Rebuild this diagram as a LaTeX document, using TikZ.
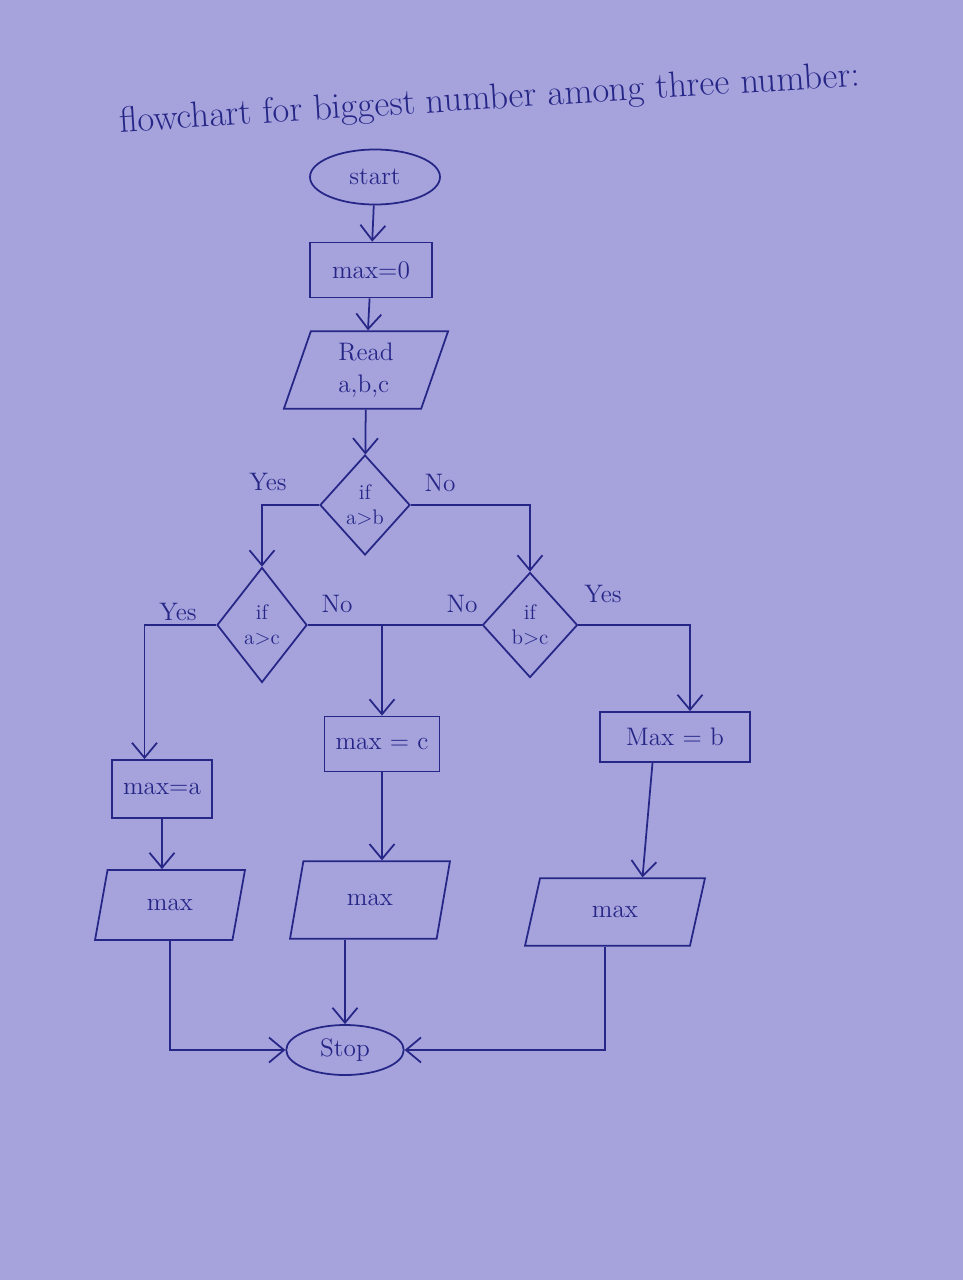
\documentclass[tikz,border=0pt]{standalone}
\usepackage{tikz}
\usetikzlibrary{arrows.meta,shapes.geometric,positioning}
\definecolor{paper}{RGB}{166,162,220}
\definecolor{ink}{RGB}{38,38,135}

\begin{document}
\begin{tikzpicture}[->,>={Straight Barb[length=3mm,width=5mm]},
  line width=1pt,color=ink,font=\Large,
  term node/.style={ellipse,draw,minimum width=2.6cm,minimum height=1.1cm},
  proc node/.style={rectangle,draw,minimum height=1.1cm},
  io node/.style={trapezium,trapezium left angle=76,trapezium right angle=104,
    trapezium stretches=true,draw,minimum height=1.4cm},
  dec node/.style={diamond,draw,inner sep=1pt,minimum width=1.8cm,
    minimum height=2cm,align=center,font=\large},
  yn node/.style={font=\Large}]
    \fill[paper,-] (0,0) rectangle (19.26,-25.6);
    \node[rotate=3.6,font=\huge](title) at (9.8,-2.0)
      {flowchart for biggest number among three number:};
    \node[term node](start) at (7.5,-3.54){start};
    \node[proc node,minimum width=2.45cm](init) at (7.42,-5.4){max=0};
    \node[io node,minimum width=3.3cm,minimum height=1.55cm,align=left](read)
      at (7.32,-7.4){Read\\a,b,c};
    \node[dec node](ab) at (7.3,-10.1){if\\a>b};
    \node[dec node,minimum height=2.3cm](ac) at (5.24,-12.5){if\\a>c};
    \node[dec node,minimum width=1.9cm,minimum height=2.1cm](bc)
      at (10.6,-12.5){if\\b>c};
    \node[proc node,minimum width=2.3cm](maxc) at (7.64,-14.88){max = c};
    \node[proc node,minimum width=3cm,minimum height=1cm](maxb)
      at (13.5,-14.74){Max = b};
    \node[proc node,minimum width=2cm,minimum height=1.16cm](maxa)
      at (3.24,-15.78){max=a};
    \node[io node,minimum width=3cm](outa) at (3.4,-18.1){max};
    \node[io node,minimum width=3.2cm,minimum height=1.55cm](outc)
      at (7.4,-18.0){max};
    \node[io node,minimum width=3.6cm,minimum height=1.35cm](outb)
      at (12.3,-18.24){max};
    \node[term node,minimum width=2.35cm,minimum height=1cm](stop)
      at (6.9,-21.0){Stop};
    \node[yn node] at (5.36,-9.64){Yes};
    \node[yn node] at (8.8,-9.66){No};
    \node[yn node] at (3.56,-12.24){Yes};
    \node[yn node] at (6.74,-12.08){No};
    \node[yn node] at (9.24,-12.08){No};
    \node[yn node] at (12.06,-11.88){Yes};
    \path (start) edge (init)
          (init) edge (read)
          (read) edge (ab)
    ;
    \draw (ab.west) -| (ac.north);
    \draw (ab.east) -| (bc.north);
    \draw (ac.west) -| ([xshift=-0.35cm]maxa.north);
    \draw[-] (ac.east) -- (bc.west);
    \coordinate (join) at (ac.east -| maxc.north);
    \draw (join) -- (maxc.north);
    \draw (bc.east) -| ([xshift=0.3cm]maxb.north);
    \draw (maxa.south) -- (maxa.south |- outa.north);
    \draw (maxc.south) -- (maxc.south |- outc.north);
    \draw ([xshift=-0.45cm]maxb.south) -- ([xshift=0.55cm]outb.north);
    \draw (outa.south) |- (stop.west);
    \draw (outc.south -| stop.north) -- (stop.north);
    \draw ([xshift=-0.2cm]outb.south) |- (stop.east);
\end{tikzpicture}
\end{document}
